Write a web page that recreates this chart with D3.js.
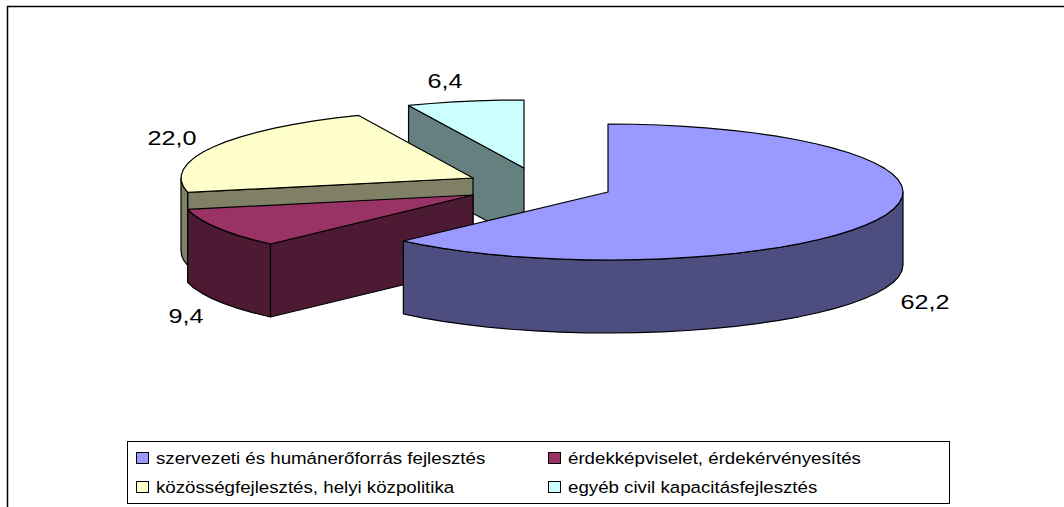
<!DOCTYPE html>
<html>
    <head>
        <title>Pie</title>
        <meta charset="utf-8">
        <script src="https://d3js.org/d3.v7.min.js"></script>
        <style>
            html, body { margin: 0; background: #fff; }
            text { font-family: "Liberation Sans", Arial, sans-serif; fill: #000; }
        </style>
    </head>
    <body>
        <div id="container"></div>
        <script>
            // Data
            const categories = [
                "szervezeti és humánerőforrás fejlesztés",
                "érdekképviselet, érdekérvényesítés",
                "közösségfejlesztés, helyi közpolitika",
                "egyéb civil kapacitásfejlesztés"
            ]
            const values = [62.2, 9.4, 22.0, 6.4]
            const valueLabels = ["62,2", "9,4", "22,0", "6,4"]
            const colors = ["#9999FF", "#993366", "#FFFFCC", "#CCFFFF"]

            // Layout
            const w = 1064
            const h = 507
            const ry = 68
            const depth = 73
            // exploded slice centres and radius, in draw order of the slices above
            const slicePos = [
                { cx: 608, cy: 192, rx: 295 },
                { cx: 473, cy: 195, rx: 292 },
                { cx: 473, cy: 178, rx: 292 },
                { cx: 524, cy: 168, rx: 295 }
            ]
            const labelPos = [[925, 309], [186, 323], [172, 145], [445, 88]]
            const labelStretch = 1.2
            const legendStretch = 1.1

            const svg = d3.select("#container")
                .append("svg")
                .attr("width", w)
                .attr("height", h)
                .style("display", "block")

            // Outer frame, open on the right and at the bottom
            svg.append("path")
                .attr("d", `M7.5,${h} V6.5 H${w}`)
                .attr("fill", "none")
                .attr("stroke", "#000")
                .attr("stroke-width", 1.5)

            const pie = d3.pie().sort(null).value(d => d)
            const arcs = pie(values)
            const line = d3.line()

            const project = (p, a, dy = 0) => [
                p.cx + p.rx * Math.sin(a),
                p.cy - ry * Math.cos(a) + dy
            ]

            // Points along the rim, about every 5 degrees like the original polygon look
            const rim = (p, a0, a1, dy = 0) => {
                const n = Math.max(1, Math.ceil((a1 - a0) / (5 * Math.PI / 180)))
                return d3.range(n + 1).map(i => project(p, a0 + (a1 - a0) * i / n, dy))
            }

            const sideColor = c => {
                const rgb = d3.rgb(c)
                return d3.rgb(rgb.r / 2, rgb.g / 2, rgb.b / 2).formatHex()
            }

            // Back to front
            const order = [3, 2, 1, 0]
            order.forEach(i => {
                const p = slicePos[i]
                const a0 = arcs[i].startAngle
                const a1 = arcs[i].endAngle
                const g = svg.append("g")
                    .attr("stroke", "#000")
                    .attr("stroke-width", 1.2)
                    .attr("stroke-linejoin", "round")
                const apex = [p.cx, p.cy]
                const apexLow = [p.cx, p.cy + depth]
                const side = sideColor(colors[i])

                // Cut faces towards the viewer
                if (Math.sin(a0) < -1e-6) {
                    g.append("path")
                        .attr("d", line([apex, project(p, a0), project(p, a0, depth), apexLow]) + "Z")
                        .attr("fill", side)
                }
                if (Math.sin(a1) > 1e-6) {
                    g.append("path")
                        .attr("d", line([apex, project(p, a1), project(p, a1, depth), apexLow]) + "Z")
                        .attr("fill", side)
                }

                // Outer wall, front half only
                const wa0 = Math.max(a0, Math.PI / 2)
                const wa1 = Math.min(a1, Math.PI * 1.5)
                if (wa1 > wa0) {
                    const wall = rim(p, wa0, wa1).concat(rim(p, wa0, wa1, depth).reverse())
                    g.append("path")
                        .attr("d", line(wall) + "Z")
                        .attr("fill", side)
                }

                // Top face
                g.append("path")
                    .attr("d", line([apex].concat(rim(p, a0, a1))) + "Z")
                    .attr("fill", colors[i])
            })

            // Value labels
            svg.selectAll(".value-label")
                .data(valueLabels)
                .enter()
                .append("text")
                .attr("class", "value-label")
                .attr("text-anchor", "middle")
                .attr("font-size", 21)
                .attr("transform", (d, i) => `translate(${labelPos[i][0]},${labelPos[i][1]}) scale(${labelStretch},1)`)
                .text(d => d)

            // Legend
            svg.append("rect")
                .attr("x", 127.5)
                .attr("y", 441.5)
                .attr("width", 822)
                .attr("height", 62)
                .attr("fill", "#fff")
                .attr("stroke", "#000")
                .attr("stroke-width", 1)

            const legendX = [136, 548]
            const legendY = [458, 487]
            const legend = svg.selectAll(".legend-item")
                .data(categories)
                .enter()
                .append("g")
                .attr("class", "legend-item")
                .attr("transform", (d, i) => `translate(${legendX[i % 2]},${legendY[Math.floor(i / 2)]})`)

            legend.append("rect")
                .attr("x", 0.5)
                .attr("y", -5.5)
                .attr("width", 12)
                .attr("height", 11)
                .attr("fill", (d, i) => colors[i])
                .attr("stroke", "#000")

            legend.append("text")
                .attr("font-size", 17)
                .attr("transform", `translate(20,6) scale(${legendStretch},1)`)
                .text(d => d)
        </script>
    </body>
</html>
